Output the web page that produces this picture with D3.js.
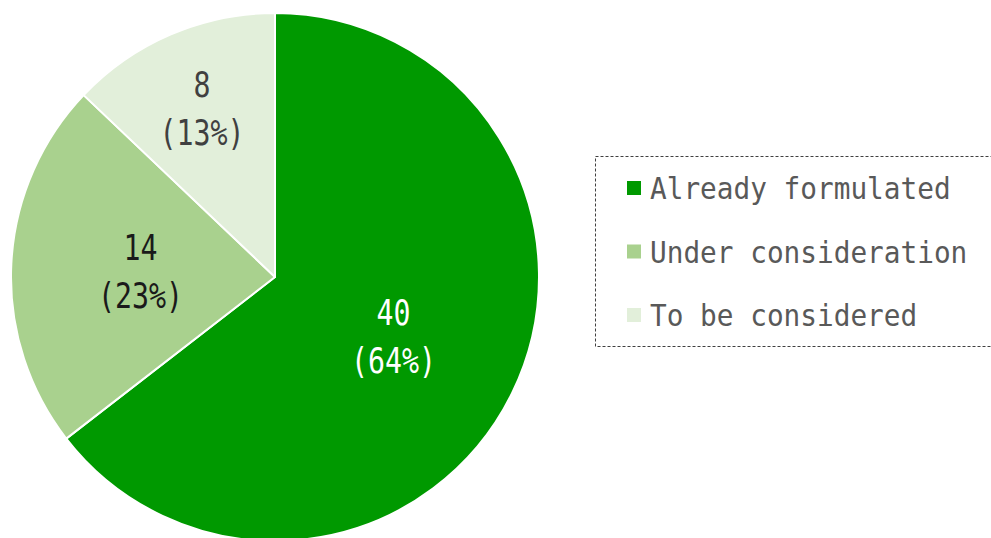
<!DOCTYPE html>
<html>
<head>
<meta charset="utf-8">
<script src="https://cdn.jsdelivr.net/npm/d3@7"></script>
<style>
  html, body { margin: 0; padding: 0; background: #fff; }
  svg { display: block; }
</style>
</head>
<body>
<svg id="chart" width="991" height="538"></svg>
<script>
// Status of plan formulation
const categories = ["Already formulated", "Under consideration", "To be considered"];
const counts = [40, 14, 8];
const percentLabels = ["64%", "23%", "13%"];
const colors = ["#009900", "#a9d18e", "#e2efda"];
const labelColors = ["#ffffff", "#1a1a1a", "#404040"];

// layout
const W = 991, H = 538;
const cx = 275, cy = 277, R = 264;
const labelRadius = [0.5, 0.51, 0.70];   // fraction of R for each slice label
const monoFont = "'DejaVu Sans Mono', monospace";

const svg = d3.select("#chart");

const pie = d3.pie().sort(null).value(d => d)
  .startAngle(0).endAngle(2 * Math.PI);
const arcs = pie(counts);
const arc = d3.arc().innerRadius(0).outerRadius(R);

const g = svg.append("g").attr("transform", `translate(${cx},${cy})`);

g.selectAll("path.slice")
  .data(arcs)
  .join("path")
  .attr("class", "slice")
  .attr("d", arc)
  .attr("fill", (d, i) => colors[i])
  .attr("stroke", "#ffffff")
  .attr("stroke-width", 2)
  .attr("stroke-linejoin", "round");

// value + percentage labels, two lines each
const labels = g.selectAll("g.lbl")
  .data(arcs)
  .join("g")
  .attr("class", "lbl")
  .attr("transform", (d, i) => {
    const a = d3.arc().innerRadius(R * labelRadius[i]).outerRadius(R * labelRadius[i]);
    const [x, y] = a.centroid(d);
    return `translate(${x},${y})`;
  });

const labelSize = 35, labelAdv = 17;
labels.append("text")
  .attr("y", -10.5)
  .attr("text-anchor", "middle")
  .attr("font-family", monoFont)
  .attr("font-size", labelSize)
  .attr("fill", (d, i) => labelColors[i])
  .attr("textLength", (d, i) => String(counts[i]).length * labelAdv)
  .attr("lengthAdjust", "spacingAndGlyphs")
  .text((d, i) => counts[i]);

labels.append("text")
  .attr("y", 37.5)
  .attr("text-anchor", "middle")
  .attr("font-family", monoFont)
  .attr("font-size", labelSize)
  .attr("fill", (d, i) => labelColors[i])
  .attr("textLength", (d, i) => ("(" + percentLabels[i] + ")").length * labelAdv)
  .attr("lengthAdjust", "spacingAndGlyphs")
  .text((d, i) => "(" + percentLabels[i] + ")");

// legend
const legend = svg.append("g");
legend.append("rect")
  .attr("x", 595.5).attr("y", 156.5)
  .attr("width", 420).attr("height", 190)
  .attr("fill", "none")
  .attr("stroke", "#404040")
  .attr("stroke-width", 1)
  .attr("stroke-dasharray", "3,2");

const rowY = d3.scalePoint().domain(categories).range([188, 315]);
const rows = legend.selectAll("g.row")
  .data(categories)
  .join("g")
  .attr("class", "row")
  .attr("transform", d => `translate(0,${rowY(d)})`);

rows.append("rect")
  .attr("x", 627).attr("y", -7)
  .attr("width", 14).attr("height", 14)
  .attr("fill", (d, i) => colors[i]);

rows.append("text")
  .attr("x", 650)
  .attr("y", 11)
  .attr("font-family", monoFont)
  .attr("font-size", 30)
  .attr("fill", "#595959")
  .attr("textLength", d => d.length * 16.7)
  .attr("lengthAdjust", "spacingAndGlyphs")
  .text(d => d);
</script>
</body>
</html>
